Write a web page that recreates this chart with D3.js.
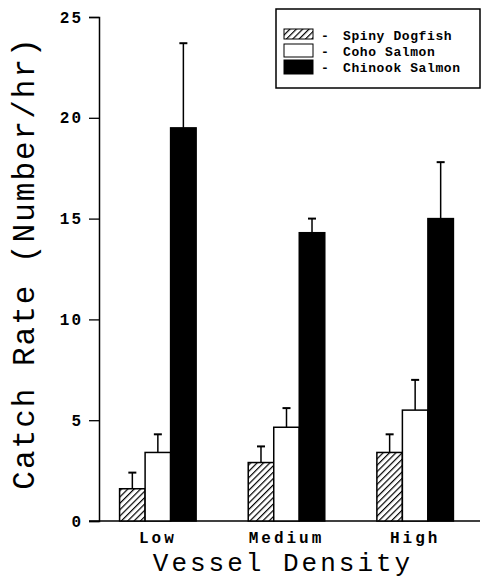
<!DOCTYPE html>
<html>
<head>
<meta charset="utf-8">
<script src="https://cdn.jsdelivr.net/npm/d3@7"></script>
<style>
  body { margin: 0; background: #fff; }
  text { font-family: "Courier New", "Liberation Mono", monospace; fill: #000; }
</style>
</head>
<body>
<div id="chart"></div>
<script>
// data
const densities = ['Low', 'Medium', 'High'];
const species = ['Spiny Dogfish', 'Coho Salmon', 'Chinook Salmon'];
const means = [
    [1.6, 3.4, 19.5],
    [2.9, 4.65, 14.3],
    [3.4, 5.5, 15.0]
];
const errors = [
    [0.8, 0.9, 4.2],
    [0.8, 0.95, 0.7],
    [0.9, 1.5, 2.8]
];
const yTicks = [0, 5, 10, 15, 20, 25];

const W = 482, H = 579;
const margin = { top: 17, right: 2, bottom: 58, left: 99 };

const svg = d3.select('#chart')
    .append('svg')
    .attr('width', W)
    .attr('height', H);

// hatch for dogfish
const defs = svg.append('defs');
const pat = defs.append('pattern')
    .attr('id', 'hatch')
    .attr('patternUnits', 'userSpaceOnUse')
    .attr('width', 4.5)
    .attr('height', 4.5)
    .attr('patternTransform', 'rotate(45)');
pat.append('rect').attr('width', 4.5).attr('height', 4.5).attr('fill', '#fff');
pat.append('line')
    .attr('x1', 0).attr('y1', 0).attr('x2', 0).attr('y2', 4.5)
    .attr('stroke', '#000').attr('stroke-width', 2.4);

const fills = ['url(#hatch)', '#fff', '#000'];

const y = d3.scaleLinear()
    .domain([0, 25])
    .range([H - margin.bottom, margin.top]);

const x0 = d3.scaleBand()
    .domain(densities)
    .range([margin.left, 474])
    .paddingInner(0.405)
    .paddingOuter(0.16);

const x1 = d3.scaleBand()
    .domain(species)
    .range([0, x0.bandwidth()]);

// y axis
const yAxis = svg.append('g')
    .attr('transform', `translate(${margin.left},0)`)
    .call(d3.axisLeft(y).tickValues(yTicks).tickSize(10).tickPadding(6));
yAxis.select('.domain').attr('stroke-width', 1.5);
yAxis.selectAll('.tick line').attr('stroke-width', 1.3);
yAxis.selectAll('text')
    .style('font-size', '16px')
    .style('font-weight', 'bold')
    .style('letter-spacing', '2px')
    .style('font-family', '"Courier New", "Liberation Mono", monospace');

// x axis baseline
svg.append('line')
    .attr('x1', margin.left - 10)
    .attr('x2', 480)
    .attr('y1', y(0))
    .attr('y2', y(0))
    .attr('stroke', '#000')
    .attr('stroke-width', 1.5);

// bars
const groups = svg.selectAll('g.grp')
    .data(densities)
    .enter()
    .append('g')
    .attr('class', 'grp')
    .attr('transform', d => `translate(${x0(d)},0)`);

groups.each(function (d, gi) {
    const g = d3.select(this);
    species.forEach((s, si) => {
        const v = means[gi][si];
        const e = errors[gi][si];
        const cx = x1(s) + x1.bandwidth() / 2;
        // error bar first, so bar covers its foot
        g.append('line')
            .attr('x1', cx).attr('x2', cx)
            .attr('y1', y(v)).attr('y2', y(v + e))
            .attr('stroke', '#000').attr('stroke-width', 1.5);
        g.append('line')
            .attr('x1', cx - 4).attr('x2', cx + 4)
            .attr('y1', y(v + e)).attr('y2', y(v + e))
            .attr('stroke', '#000').attr('stroke-width', 2);
        g.append('rect')
            .attr('x', x1(s))
            .attr('y', y(v))
            .attr('width', x1.bandwidth())
            .attr('height', y(0) - y(v))
            .attr('fill', fills[si])
            .attr('stroke', '#000')
            .attr('stroke-width', 1.5);
    });
});

// category labels
svg.selectAll('text.cat')
    .data(densities)
    .enter()
    .append('text')
    .attr('class', 'cat')
    .attr('x', d => x0(d) + x0.bandwidth() / 2)
    .attr('y', 543)
    .attr('text-anchor', 'middle')
    .style('font-size', '16px')
    .style('font-weight', 'bold')
    .style('letter-spacing', '3px')
    .text(d => d);

// axis titles
svg.append('text')
    .attr('x', 283)
    .attr('y', 571)
    .attr('text-anchor', 'middle')
    .style('font-size', '26px')
    .style('letter-spacing', '3px')
    .text('Vessel Density');

svg.append('text')
    .attr('transform', 'translate(34,263) rotate(-90)')
    .attr('text-anchor', 'middle')
    .style('font-size', '31px')
    .style('letter-spacing', '2px')
    .text('Catch Rate (Number/hr)');

// legend
const legend = svg.append('g');
legend.append('rect')
    .attr('x', 276).attr('y', 9)
    .attr('width', 204).attr('height', 79)
    .attr('fill', '#fff')
    .attr('stroke', '#000')
    .attr('stroke-width', 1.5);

const swY = [29, 44, 60];
const swH = [10, 13, 14];
const rowBase = [40, 56, 72];
species.forEach((s, i) => {
    legend.append('rect')
        .attr('x', 284).attr('y', swY[i])
        .attr('width', 29).attr('height', swH[i])
        .attr('fill', fills[i])
        .attr('stroke', '#000')
        .attr('stroke-width', 1);
    legend.append('text')
        .attr('x', 321)
        .attr('y', rowBase[i])
        .style('font-size', '13px')
        .style('font-weight', 'bold')
        .text('-');
    legend.append('text')
        .attr('x', 343)
        .attr('y', rowBase[i])
        .style('font-size', '13px')
        .style('font-weight', 'bold')
        .style('letter-spacing', '0.6px')
        .text(s);
});
</script>
</body>
</html>
